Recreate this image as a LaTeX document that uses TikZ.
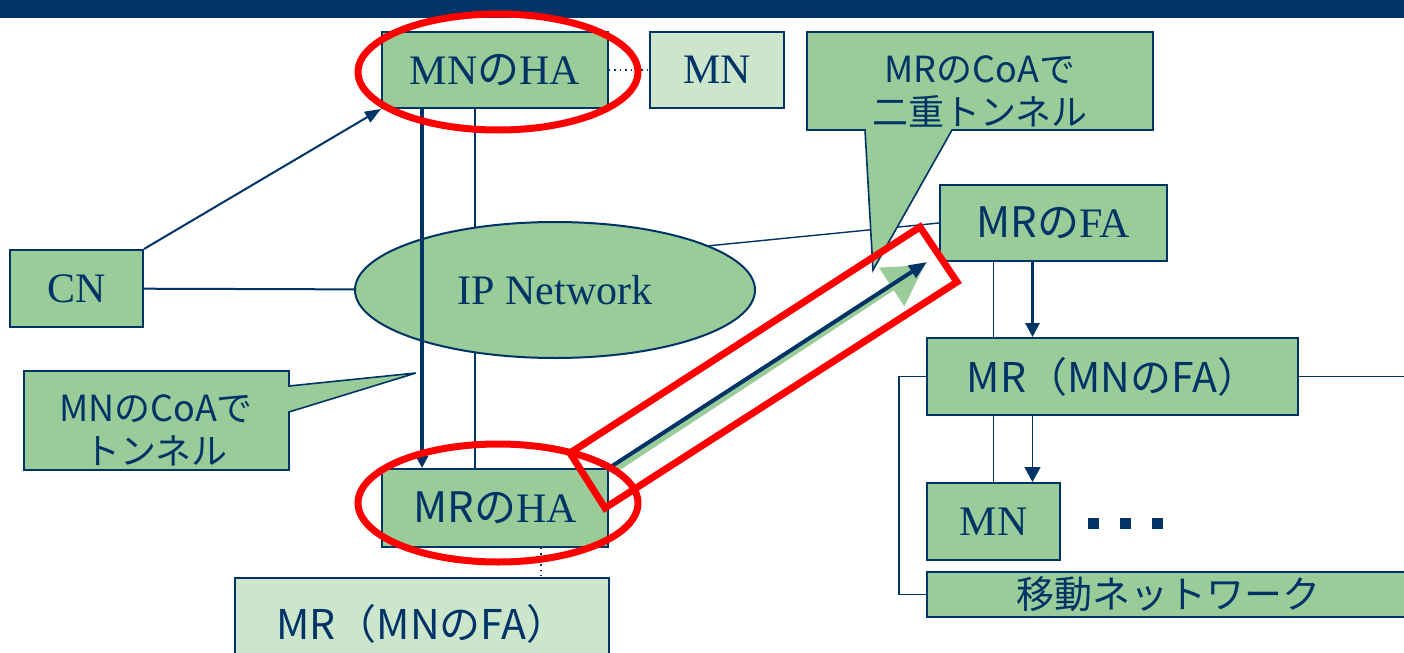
\documentclass[tikz,border=0pt]{standalone}
\usepackage{fontspec}
\setmainfont{Liberation Serif}
\newfontfamily\jp{Noto Sans CJK JP}
\usepackage{tikz}
\usetikzlibrary{positioning}
\usetikzlibrary{shapes.geometric,arrows.meta}
\definecolor{navy}{RGB}{0,51,102}
\definecolor{leaf}{RGB}{153,204,153}
\definecolor{paleleaf}{RGB}{204,230,204}
\pgfdeclarelayer{back}
\pgfsetlayers{back,main}

\begin{document}
\begin{tikzpicture}
            [x=0.5pt, y=-0.5pt,
             box/.style = {draw=navy, line width=1pt, fill=leaf, text=navy, inner sep=0pt,
                           font=\fontsize{21}{25}\selectfont},
             pale/.style = {box, fill=paleleaf},
             jpbox/.style = {font=\jp\fontsize{20.5}{25}\selectfont},
             wire/.style = {draw=navy, line width=0.7pt},
             hilite/.style = {draw=red, line width=3.5pt},
             talk/.style = {draw=navy, line width=0.8pt, fill=leaf},
             talktext/.style = {text=navy, align=center, font=\jp\fontsize{18}{21.5}\selectfont}]

            \useasboundingbox (0,0) rectangle (1404,653);
            \clip (0,0) rectangle (1404,653);
            \fill[navy] (0,0) rectangle (1404,18);

            \node[box, minimum width=113pt, minimum height=38pt] (haMN) at (495,70) {MN{\jp の}HA};
            \node[pale, minimum width=67pt, minimum height=38pt, right=20pt of haMN] (mn) {MN};
            \node[box, minimum width=66.5pt, minimum height=38.5pt] (cn) at (76.5,288.5) {CN};
            \node[box, ellipse, minimum width=200pt, minimum height=68pt] (ip) at (555,290) {IP Network};
            \node[box, minimum width=113pt, minimum height=39pt] (haMR) at (495,508) {{\jp MRの}HA};
            \node[pale, jpbox, minimum width=187pt, minimum height=46pt] (mrLow) at (422,624) {MR（MNのFA）};
            \node[box, minimum width=113.5pt, minimum height=38pt] (faMR) at (1053.5,223) {{\jp MRの}FA};
            \node[box, jpbox, minimum width=185.5pt, minimum height=38.5pt] (mrFA) at (1112.5,376.5) {MR（MNのFA）};
            \node[box, minimum width=66.5pt, minimum height=38.5pt, below right=33pt and 0pt of mrFA.south west] (mnR) {MN};
            \node[box, jpbox, font=\jp\fontsize{19}{22}\selectfont, minimum width=241pt, minimum height=22.5pt,
                  below right=5pt and 0pt of mnR.south west] (net) {\raisebox{-2pt}{移動ネットワーク}};

            \begin{pgfonlayer}{back}
                \draw[wire] ([xshift=-10pt]haMN.south) -- ([xshift=-10pt]haMR.north);
            \end{pgfonlayer}
            \draw[wire, dotted] (haMN) -- (mn);
            \draw[wire, line width=1pt, -{Triangle[width=6pt,length=8pt]}] (cn.north east) -- (haMN.south west);
            \draw[wire, line width=1pt] (cn) -- (ip);
            \draw[wire, line width=2pt, -{Triangle[width=6pt,length=6pt]}] ([xshift=-36.5pt]haMN.south) -- ([xshift=-36.5pt]haMR.north);
            \draw[wire] (ip.16) -- (faMR.west);
            \draw[wire, dotted] ([xshift=23pt]haMR.south) -- ([xshift=23pt]haMR.south |- mrLow.north);

            \coordinate (col) at (1032.5,0);
            \draw[wire] (faMR.south -| mnR.north) -- (mrFA.north -| mnR.north);
            \draw[wire] (mrFA.south -| mnR.north) -- (mnR.north);
            \draw[wire, line width=1.5pt, -{Triangle[width=7pt,length=7pt]}] (faMR.south -| col) -- (mrFA.north -| col);
            \draw[wire, -{Triangle[width=8pt,length=7.5pt]}] (mrFA.south -| col) -- (mnR.north -| col);
            \draw[wire] (mrFA.west) -- ++(-13.5pt,0) |- (net.west);
            \coordinate (edgeR) at (1420,376.5);
            \draw[wire] (mrFA.east) -- (edgeR);

            \foreach \i/\x in {1/1093.5,2/1125.5,3/1157.5}
                \node[fill=navy, inner sep=0pt, minimum size=5.5pt] (dot\i) at (\x,523.5) {};

            \filldraw[talk] (24,371) -- (289,371) -- (289,386) -- (416,373) -- (289,412) -- (289,470) -- (24,470) -- cycle;
            \node[talktext] (tunMN) at (156,430) {MNのCoAで\\トンネル};
            \filldraw[talk] (807,32) -- (1153,32) -- (1153,130) -- (952,130) -- (873,270) -- (865,130) -- (807,130) -- cycle;
            \node[talktext] (tunMR) at (980,91) {MRのCoAで\\二重トンネル};

            \coordinate (tipG) at (925,265);
            \coordinate (tipN) at (927,262);
            \draw[leaf, line width=4pt, -{Triangle[width=22pt,length=20pt]}] ([xshift=1pt,yshift=-1.5pt]haMR.north east) -- (tipG);
            \draw[navy, line width=2pt, -{Triangle[width=7pt,length=9pt]}] (haMR.north east) -- (tipN);

            \draw[hilite] (498,72) ellipse [x radius=140, y radius=58];
            \draw[hilite] (498,503) ellipse [x radius=140, y radius=59];
            \draw[hilite] (570,453) -- (920,227) -- (957,282) -- (605,508) -- cycle;

        \end{tikzpicture}
\end{document}
